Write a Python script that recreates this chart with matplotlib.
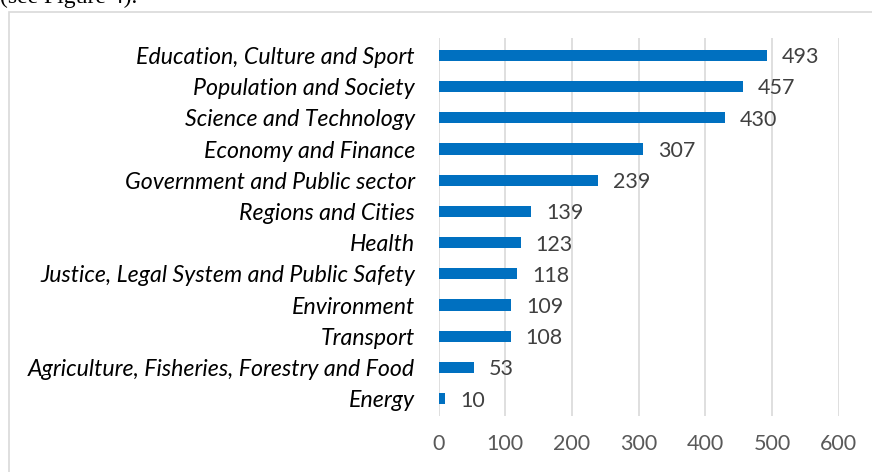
import matplotlib.pyplot as plt
from matplotlib.patches import Rectangle

categories = [
    "Education, Culture and Sport",
    "Population and Society",
    "Science and Technology",
    "Economy and Finance",
    "Government and Public sector",
    "Regions and Cities",
    "Health",
    "Justice, Legal System and Public Safety",
    "Environment",
    "Transport",
    "Agriculture, Fisheries, Forestry and Food",
    "Energy",
]
counts = [493, 457, 430, 307, 239, 139, 123, 118, 109, 108, 53, 10]
x_ticks = [0, 100, 200, 300, 400, 500, 600]

plt.rcParams["font.family"] = ["Lato", "DejaVu Sans"]

fig = plt.figure(figsize=(8.72, 4.72), dpi=100)
ax = fig.add_axes([0.503, 0.119, 0.459, 0.80])

pos = list(range(len(categories)))
ax.barh(pos, counts, height=0.36, color="#0070C0", zorder=3)
for p, v in zip(pos, counts):
    ax.text(v + 22, p + 0.06, str(v), va="center", ha="left", fontsize=15.5, color="#404040")

ax.set_xlim(0, 600)
ax.set_ylim(11.55, -0.55)
ax.set_xticks(x_ticks)
ax.set_xticklabels([str(t) for t in x_ticks])
ax.set_yticks(pos)
ax.set_yticklabels(categories, fontsize=16.7, style="italic", color="black")
ax.tick_params(axis="x", length=0, pad=13, labelsize=15.5, labelcolor="#595959")
ax.tick_params(axis="y", length=0, pad=17)
ax.grid(axis="x", color="#d9d9d9", linewidth=1.2, zorder=0)
for s in ax.spines.values():
    s.set_visible(False)

# chart frame, cut by the page edges
fig.patches.append(Rectangle((9 / 872, -0.1), 1.0, 1 - 12 / 472 + 0.1,
                             transform=fig.transFigure, fill=False,
                             edgecolor="#d9d9d9", linewidth=1.2))
fig.text(0.0, 1.005, "(see Figure 4).", family="Liberation Serif", fontsize=17,
         va="center", ha="left", color="black")

fig.savefig("out.png", dpi=100)
